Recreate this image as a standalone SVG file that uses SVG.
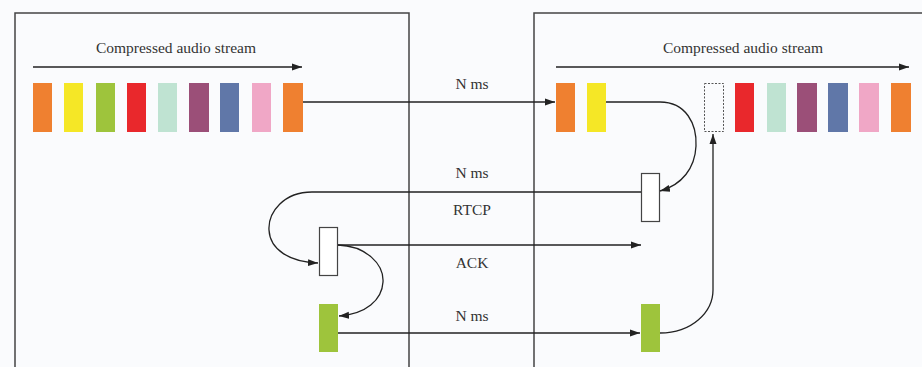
<svg xmlns="http://www.w3.org/2000/svg" width="922" height="367" viewBox="0 0 922 367">
<defs>
<marker id="ah" viewBox="0 0 10 10" refX="10" refY="5" markerWidth="10" markerHeight="10" markerUnits="userSpaceOnUse" orient="auto">
<path d="M0,1.5 L10,5 L0,8.5 Z" fill="#222"/>
</marker>
</defs>
<style>
.frame{fill:none;stroke:#444;stroke-width:1.5}
.conn{fill:none;stroke:#222;stroke-width:1.3;marker-end:url(#ah)}
.lbl{font-family:"Liberation Serif","Times New Roman",serif;font-size:15.5px;fill:#333;text-anchor:middle}
.pkt{stroke:none}
.box{fill:#fff;stroke:#444;stroke-width:1.2}
</style>
<rect width="922" height="367" fill="#fafbfd"/>
<g id="sender">
<path class="frame" d="M15,367 V13 H409 V367"/>
</g>
<g id="receiver">
<path class="frame" d="M534,367 V13 H922"/>
</g>
<g id="sender-stream">
<text class="lbl" x="176" y="53">Compressed audio stream</text>
<rect class="pkt" x="33" y="83" width="19" height="49" fill="#ef8030"/>
<rect class="pkt" x="64" y="83" width="19" height="49" fill="#f5e726"/>
<rect class="pkt" x="96" y="83" width="19" height="49" fill="#9ec43c"/>
<rect class="pkt" x="127" y="83" width="19" height="49" fill="#e9282c"/>
<rect class="pkt" x="158" y="83" width="19" height="49" fill="#bfe3d2"/>
<rect class="pkt" x="189" y="83" width="20" height="49" fill="#9b4f78"/>
<rect class="pkt" x="220" y="83" width="19" height="49" fill="#6077a8"/>
<rect class="pkt" x="252" y="83" width="19" height="49" fill="#f0a7c6"/>
<rect class="pkt" x="283" y="83" width="20" height="49" fill="#ef8030"/>
</g>
<g id="receiver-stream">
<text class="lbl" x="743" y="53">Compressed audio stream</text>
<rect class="pkt" x="556" y="83" width="19" height="49" fill="#ef8030"/>
<rect class="pkt" x="587" y="83" width="19" height="49" fill="#f5e726"/>
<rect x="704.5" y="83.5" width="19" height="48" fill="none" stroke="#555" stroke-width="1" stroke-dasharray="2,1.5"/>
<rect class="pkt" x="735" y="83" width="19" height="49" fill="#e9282c"/>
<rect class="pkt" x="767" y="83" width="19" height="49" fill="#bfe3d2"/>
<rect class="pkt" x="797" y="83" width="20" height="49" fill="#9b4f78"/>
<rect class="pkt" x="828" y="83" width="20" height="49" fill="#6077a8"/>
<rect class="pkt" x="859" y="83" width="20" height="49" fill="#f0a7c6"/>
<rect class="pkt" x="891" y="83" width="20" height="49" fill="#ef8030"/>
</g>
<g id="receiver-rtcp">
<rect class="box" x="641.5" y="173.5" width="18" height="48"/>
</g>
<g id="sender-rtcp">
<rect class="box" x="319.5" y="227.5" width="18" height="48"/>
</g>
<g id="sender-retx">
<rect class="pkt" x="319" y="304" width="19" height="48" fill="#9ec43c"/>
</g>
<g id="receiver-retx">
<rect class="pkt" x="641" y="304" width="19" height="48" fill="#9ec43c"/>
</g>
<g id="connectors">
<path class="conn" d="M33,67 H302"/>
<path class="conn" d="M556,67 H909"/>
<path class="conn" d="M303,102 H555"/>
<path class="conn" d="M606,102 H660 C686,102 697,124 696,146 C695,168 682,185 660,191"/>
<path class="conn" d="M641,192 H312 C284,192 268,212 269,230 C270,250 290,262 318,263"/>
<path class="conn" d="M338,245 H641"/>
<path class="conn" d="M338,245 C366,246 384,264 383,282 C382,300 366,314 339,316"/>
<path class="conn" d="M338,333 H640"/>
<path class="conn" d="M660,333 C692,333 713,312 713,290 V134"/>
</g>
<g id="labels">
<text class="lbl" x="472" y="89">N ms</text>
<text class="lbl" x="472" y="178">N ms</text>
<text class="lbl" x="472" y="215">RTCP</text>
<text class="lbl" x="472" y="268">ACK</text>
<text class="lbl" x="472" y="321">N ms</text>
</g>
</svg>
